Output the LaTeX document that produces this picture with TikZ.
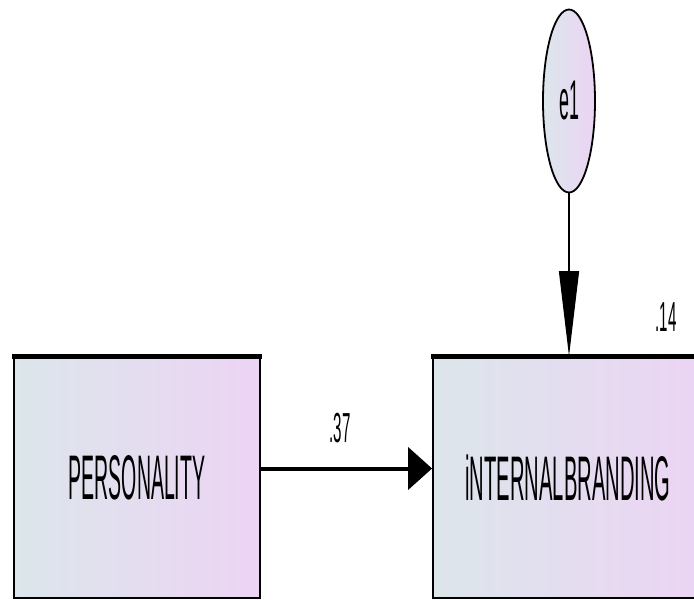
\documentclass[tikz,border=0pt]{standalone}
\usepackage{fontspec}
\setmainfont{Liberation Sans}
\usetikzlibrary{shapes.geometric,arrows.meta}
\definecolor{boxl}{RGB}{220,230,235}
\definecolor{boxr}{RGB}{236,212,244}
\begin{document}
\begin{tikzpicture}[x=1pt,y=-1pt,
  box/.style={draw=black, line width=1.8pt, rectangle, left color=boxl, right color=boxr, inner sep=0pt},
  err/.style={draw=black, line width=1.8pt, ellipse, left color=boxl, right color=boxr, inner sep=0pt, minimum width=52pt, minimum height=183pt},
  bigtxt/.style={font=\fontsize{63}{63}\selectfont},
  lbl/.style={font=\fontsize{42}{42}\selectfont, inner sep=0pt},
  topbar/.style={line width=5pt, line cap=butt}]
\useasboundingbox (0,0) rectangle (694,600);
\clip (0,0) rectangle (694,600);
\node[box, minimum width=246pt, minimum height=241pt] (p) at (137,477.5) {\scalebox{0.31}[1]{\fontsize{63}{63}\selectfont PERSONALITY}};
\node[box, minimum width=270pt, minimum height=241pt] (ib) at (568,477.5) {\scalebox{0.32}[1]{\fontsize{63}{63}\selectfont iNTERNALBRANDING}};
\draw[topbar] ([xshift=-0.9pt]p.north west) -- ([xshift=0.9pt]p.north east);
\draw[topbar] ([xshift=-0.9pt]ib.north west) -- ([xshift=0.9pt]ib.north east);
\node[err] (e1) at (569,101) {\scalebox{0.32}[1]{\fontsize{56}{56}\selectfont e1}};
\draw[line width=1.2pt, -{Triangle[length=85pt,width=20pt]}] (e1.south) -- (e1.south |- ib.north);
\draw[line width=4pt, -{Triangle[length=24pt,width=42pt]}] ([yshift=9pt]p.east) -- ([yshift=9pt]ib.west);
\node[lbl] (l37) at (340,428) {\scalebox{0.36}[1]{.37}};
\node[lbl] (l14) at (666,317) {\scalebox{0.36}[1]{.14}};
\end{tikzpicture}
\end{document}
